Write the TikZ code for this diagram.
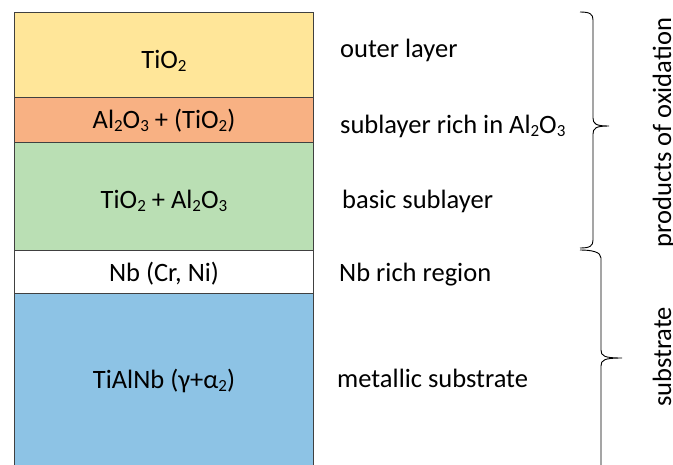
\documentclass[tikz,border=0pt]{standalone}
\usepackage{fontspec}
\setmainfont{Carlito}
\newcommand{\sbs}[1]{\raisebox{-0.13em}{\fontsize{17}{17}\selectfont #1}}
\begin{document}
\begin{tikzpicture}[x=1pt,y=-1pt,
  layer/.style={draw=black!75, line width=0.9pt, minimum width=299pt, inner sep=0pt, anchor=north west},
  txt/.style={inner sep=0pt, anchor=base, font=\fontsize{26.5}{30}\selectfont},
  lbl/.style={anchor=base west, inner sep=0pt, font=\fontsize{26.5}{30}\selectfont},
  side/.style={rotate=90, anchor=base, inner sep=0pt, font=\fontsize{26.5}{30}\selectfont},
  brace/.style={draw=black, line width=0.9pt}]
\definecolor{cyel}{HTML}{FFE699}
\definecolor{cora}{HTML}{F8B183}
\definecolor{cgre}{HTML}{BADFB4}
\definecolor{cblu}{HTML}{8DC3E5}
\useasboundingbox (0,0) rectangle (673,464);
\clip (0,0) rectangle (673,464);
\node[layer, fill=cyel, minimum height=85pt] (l1) at (14,12) {};
\node[layer, fill=cora, minimum height=45pt] (l2) at (14,97) {};
\node[layer, fill=cgre, minimum height=108pt] (l3) at (14,142) {};
\node[layer, fill=white, minimum height=43pt] (l4) at (14,250) {};
\node[layer, fill=cblu, minimum height=190pt] (l5) at (14,293) {};
\node[txt] (t1) at (164,68) {TiO\sbs{2}};
\node[txt] (t2) at (164,128.5) {Al\sbs{2}O\sbs{3} + (TiO\sbs{2})};
\node[txt] (t3) at (164,208) {TiO\sbs{2} + Al\sbs{2}O\sbs{3}};
\node[txt] (t4) at (164,281.5) {Nb (Cr, Ni)};
\node[txt] (t5) at (164,388) {TiAlNb (γ+α\sbs{2})};
\node[lbl] (r1) at (340,57) {outer layer};
\node[lbl] (r2) at (340,133) {sublayer rich in Al\sbs{2}O\sbs{3}};
\node[lbl] (r3) at (342,208) {basic sublayer};
\node[lbl] (r4) at (339,281) {Nb rich region};
\node[lbl] (r5) at (337,387) {metallic substrate};
\coordinate (b1a) at (580,12);
\coordinate (b1m) at (609,126);
\coordinate (b1b) at (580,248);
\draw[brace] (b1a) .. controls (590,12) and (593,14) .. (593,20) -- (593,118)
  .. controls (593,124) and (596,126) .. (b1m)
  .. controls (596,126) and (593,128) .. (593,134) -- (593,240)
  .. controls (593,246) and (590,248) .. (b1b);
\coordinate (b2a) at (580,250);
\coordinate (b2m) at (622,358);
\coordinate (b2b) at (601,470);
\draw[brace] (b2a) .. controls (592,250) and (601,252) .. (601,258) -- (601,350)
  .. controls (601,356) and (604,358) .. (b2m)
  .. controls (604,358) and (601,360) .. (601,366) -- (b2b);
\node[side] (s1) at (671,132.5) {products of oxidation};
\node[side] (s2) at (671,357) {substrate};
\end{tikzpicture}
\end{document}
